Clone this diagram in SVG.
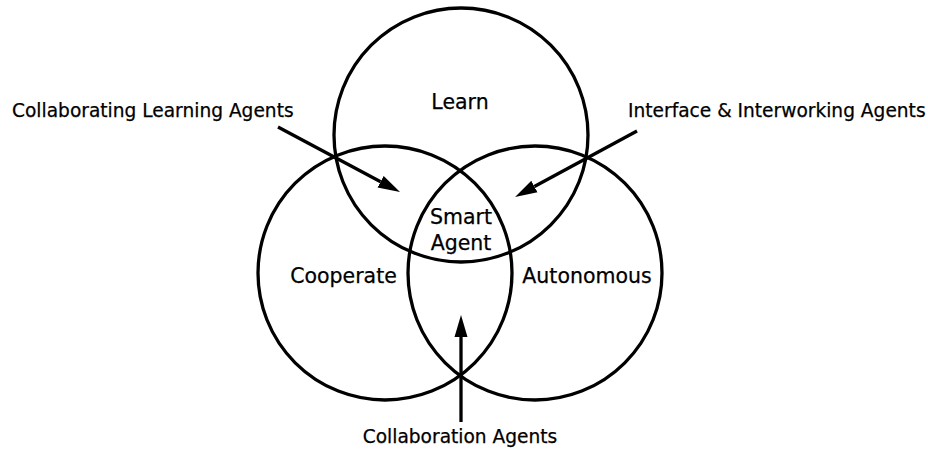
<svg xmlns="http://www.w3.org/2000/svg" width="928" height="449" viewBox="0 0 928 449">
<style>
.c{fill:none;stroke:#000;stroke-width:3.3}
.a{fill:none;stroke:#000;stroke-width:3.3}
.t{font-family:"DejaVu Sans","Liberation Sans",sans-serif;fill:#000;stroke:#000;stroke-width:0.25}
.n{font-size:20.5px;text-anchor:middle}
.l{font-size:18.6px}
</style>
<defs>
<marker id="ah" markerUnits="userSpaceOnUse" markerWidth="24" markerHeight="14" viewBox="0 -7 24 14" refX="0" refY="0" orient="auto">
<path d="M0,-6.5 L22,0 L0,6.5 Z" fill="#000"/>
</marker>
</defs>
<rect width="928" height="449" fill="#fff"/>
<g id="learn">
<circle class="c" cx="461" cy="135" r="127"/>
<text class="t n" x="460" y="109">Learn</text>
</g>
<g id="cooperate">
<circle class="c" cx="385" cy="273" r="127"/>
<text class="t n" x="343.5" y="283">Cooperate</text>
</g>
<g id="autonomous">
<circle class="c" cx="535" cy="273" r="127"/>
<text class="t n" x="587" y="283">Autonomous</text>
</g>
<g id="smart-agent">
<text class="t n" x="461" y="224">Smart</text>
<text class="t n" x="461" y="250">Agent</text>
</g>
<g id="label-collaborating-learning">
<text class="t l" x="12" y="117">Collaborating Learning Agents</text>
</g>
<g id="label-interface">
<text class="t l" x="628" y="117">Interface &amp; Interworking Agents</text>
</g>
<g id="label-collaboration">
<text class="t l" x="460" y="443" text-anchor="middle">Collaboration Agents</text>
</g>
<g id="connectors">
<line class="a" x1="278" y1="127" x2="380.6" y2="181.7" marker-end="url(#ah)"/>
<line class="a" x1="637" y1="131" x2="534.4" y2="186.5" marker-end="url(#ah)"/>
<line class="a" x1="461" y1="422" x2="461" y2="337" marker-end="url(#ah)"/>
</g>
</svg>
